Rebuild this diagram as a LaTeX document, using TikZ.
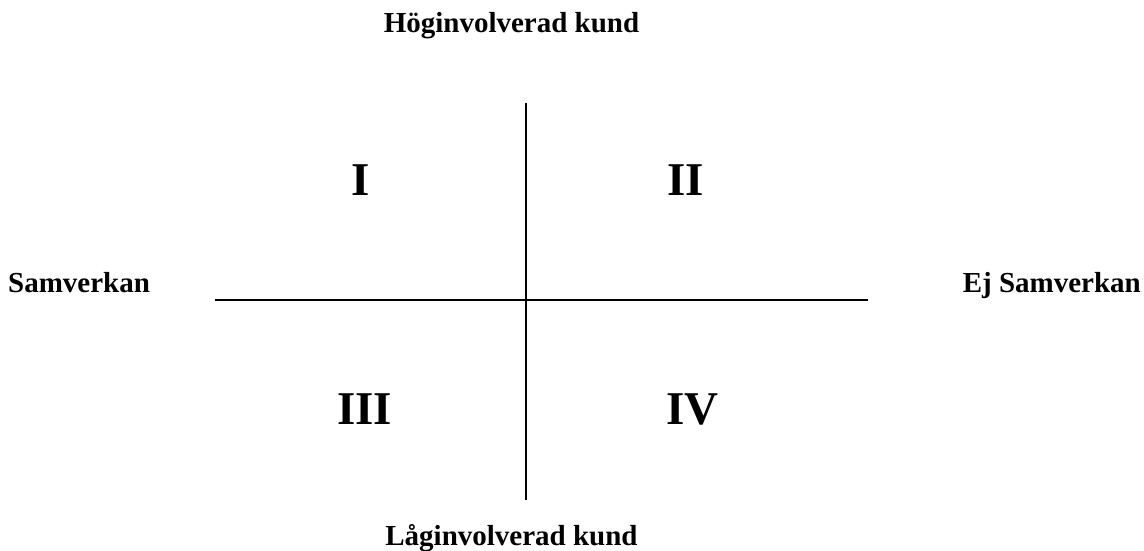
\documentclass[tikz,border=0pt]{standalone}
\usepackage{fontspec}
\setmainfont{Liberation Serif}
\tikzset{
  lbl/.style={font=\bfseries\fontsize{29}{34}\selectfont, inner sep=0pt, anchor=base},
  num/.style={font=\bfseries\fontsize{47}{54}\selectfont, inner sep=0pt, anchor=base},
  axis/.style={line width=2pt, black}
}
\begin{document}
\begin{tikzpicture}[x=1pt,y=-1pt]
\useasboundingbox (0,0) rectangle (1144,550);
\coordinate (vtop) at (525.5,103);
\coordinate (vbot) at (525.5,500);
\coordinate (hl) at (215,300);
\coordinate (hr) at (868,300);
\draw[axis] (vtop) -- (vbot);
\draw[axis] (hl) -- (hr);
\node[lbl] (top) at (511.5,32) {Höginvolverad kund};
\node[lbl] (bot) at (511.5,545) {Låginvolverad kund};
\node[lbl, anchor=base west] (left) at (8,292) {Samverkan};
\node[lbl, anchor=base east] (right) at (1141,292) {Ej Samverkan};
\node[num] (q1) at (361,195) {I};
\node[num] (q2) at (685.5,195) {II};
\node[num] (q3) at (364.5,424) {III};
\node[num] (q4) at (692.5,424) {IV};
\end{tikzpicture}
\end{document}
